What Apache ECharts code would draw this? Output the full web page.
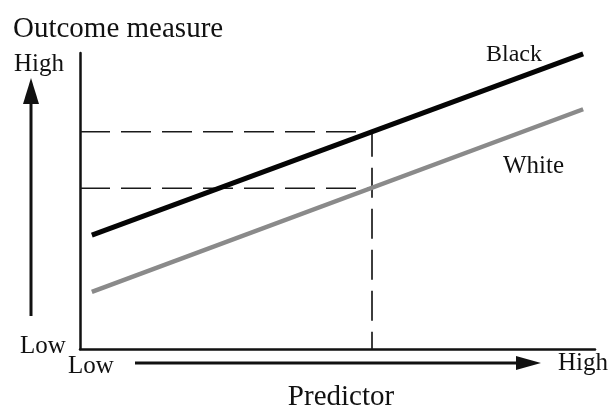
<!DOCTYPE html>
<html>
<head>
<meta charset="utf-8">
<script src="https://cdn.jsdelivr.net/npm/echarts@6/dist/echarts.min.js"></script>
<style>
  html, body { margin: 0; padding: 0; background: #fff; }
  #chart { width: 608px; height: 409px; }
</style>
</head>
<body>
<div id="chart"></div>
<script>
  // predictor values at the ends of the two lines (0 = low, 100 = high)
  var predictor = [2.3, 97.7];
  var blackOutcome = [38.5, 99.7];
  var whiteOutcome = [19.3, 81.0];

  // reference point marked with dashed lines
  var refPredictor = 56.7;
  var refBlack = 73.4;
  var refWhite = 54.3;

  var groupNames = ['Black', 'White'];
  var axisWords = ['Low', 'High'];

  var font = '"Liberation Serif", "Times New Roman", serif';

  function pairs(xs, ys) {
    return xs.map(function (x, i) { return [x, ys[i]]; });
  }

  function txt(text, x, y, size, align) {
    return {
      type: 'text', x: x, y: y, silent: true,
      style: {
        text: text, fill: '#111',
        font: size + 'px ' + font,
        align: align || 'left', verticalAlign: 'middle'
      }
    };
  }

  var chart = echarts.init(document.getElementById('chart'));

  var option = {
    animation: false,
    backgroundColor: '#fff',
    grid: { left: 80, right: 13, top: 53, bottom: 60 },
    xAxis: {
      type: 'value', min: 0, max: 100,
      axisLine: { show: true, onZero: false, lineStyle: { color: '#111', width: 2.5 } },
      axisTick: { show: false }, axisLabel: { show: false }, splitLine: { show: false }
    },
    yAxis: {
      type: 'value', min: 0, max: 100,
      axisLine: { show: true, onZero: false, lineStyle: { color: '#111', width: 2.5 } },
      axisTick: { show: false }, axisLabel: { show: false }, splitLine: { show: false }
    },
    series: [
      {
        name: 'ref-black', type: 'line', symbol: 'none', z: 1,
        data: [[0, refBlack], [refPredictor, refBlack], [refPredictor, 0]],
        lineStyle: { color: '#1a1a1a', width: 1.7, type: [30, 11] }
      },
      {
        name: 'ref-white', type: 'line', symbol: 'none', z: 1,
        data: [[0, refWhite], [refPredictor, refWhite]],
        lineStyle: { color: '#1a1a1a', width: 1.7, type: [30, 11] }
      },
      {
        name: groupNames[1], type: 'line', symbol: 'none', z: 2,
        data: pairs(predictor, whiteOutcome),
        lineStyle: { color: '#8a8a8a', width: 4.5 }
      },
      {
        name: groupNames[0], type: 'line', symbol: 'none', z: 3,
        data: pairs(predictor, blackOutcome),
        lineStyle: { color: '#050505', width: 5 }
      }
    ],
    graphic: [
      txt('Outcome measure', 13, 29, 29),
      txt(axisWords[1], 14, 64, 25),
      txt(axisWords[0], 20, 346, 25),
      txt(axisWords[0], 68, 366, 25),
      txt(axisWords[1], 558, 363, 25),
      txt('Predictor', 341, 397, 29, 'center'),
      txt(groupNames[0], 486, 55, 24),
      txt(groupNames[1], 503, 166, 25),
      // vertical arrow (outcome)
      { type: 'line', silent: true, shape: { x1: 31, y1: 316, x2: 31, y2: 100 },
        style: { stroke: '#111', lineWidth: 3 } },
      { type: 'polygon', silent: true, shape: { points: [[31, 78], [23, 104], [39, 104]] },
        style: { fill: '#111' } },
      // horizontal arrow (predictor)
      { type: 'line', silent: true, shape: { x1: 135, y1: 363, x2: 520, y2: 363 },
        style: { stroke: '#111', lineWidth: 3 } },
      { type: 'polygon', silent: true, shape: { points: [[541, 363], [516, 356], [516, 370]] },
        style: { fill: '#111' } }
    ]
  };

  chart.setOption(option);
</script>
</body>
</html>
